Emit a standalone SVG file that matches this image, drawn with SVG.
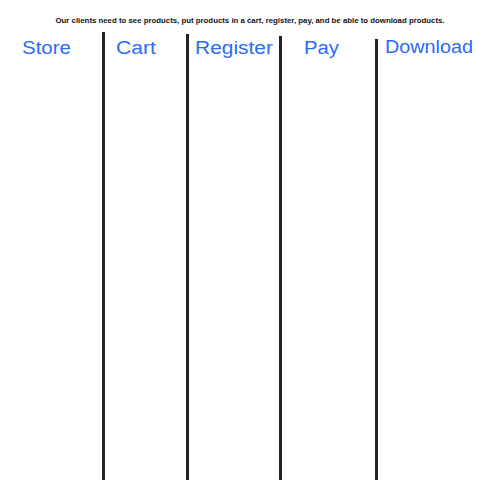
<svg xmlns="http://www.w3.org/2000/svg" width="500" height="500" viewBox="0 0 500 500">
<style>
.title{font-family:"Comic Sans MS","Liberation Sans",sans-serif;font-size:8px;font-weight:bold;fill:#111}
.lane{font-family:"Comic Sans MS","Liberation Sans",sans-serif;font-size:18px;fill:#2a6cf6}
.sep{stroke:#222;stroke-width:3;fill:none}
</style>
<rect width="500" height="500" fill="#fff"/>
<text class="title" x="250" y="23" text-anchor="middle" textLength="389" lengthAdjust="spacingAndGlyphs">Our clients need to see products, put products in a cart, register, pay, and be able to download products.</text>
<g id="connectors">
<line class="sep" x1="103.5" y1="32" x2="103.5" y2="480"/>
<line class="sep" x1="187.5" y1="34" x2="187.5" y2="480"/>
<line class="sep" x1="280.5" y1="36" x2="280.5" y2="480"/>
<line class="sep" x1="376.5" y1="39" x2="376.5" y2="480"/>
</g>
<g id="store"><text class="lane" x="22" y="54" textLength="49" lengthAdjust="spacingAndGlyphs">Store</text></g>
<g id="cart"><text class="lane" x="116" y="54" textLength="40" lengthAdjust="spacingAndGlyphs">Cart</text></g>
<g id="register"><text class="lane" x="195" y="54" textLength="78" lengthAdjust="spacingAndGlyphs">Register</text></g>
<g id="pay"><text class="lane" x="304" y="54" textLength="35" lengthAdjust="spacingAndGlyphs">Pay</text></g>
<g id="download"><text class="lane" x="385" y="53" textLength="88" lengthAdjust="spacingAndGlyphs">Download</text></g>
</svg>
